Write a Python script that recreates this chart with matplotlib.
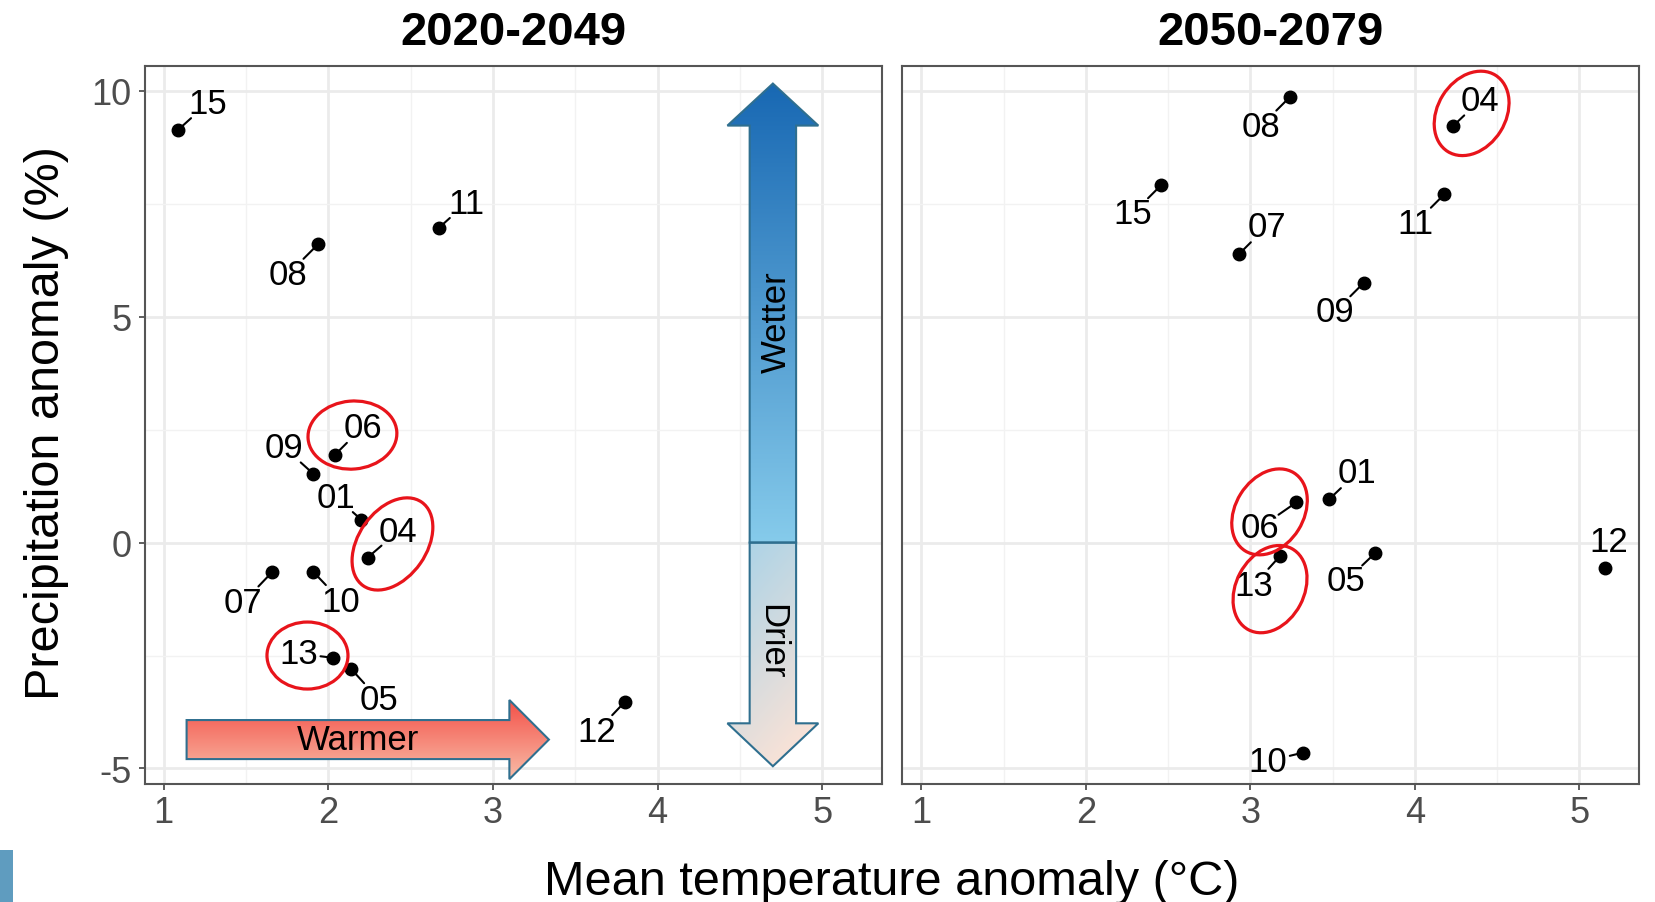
import numpy as np
import matplotlib
matplotlib.use('Agg')
import matplotlib.pyplot as plt
from matplotlib.patches import Polygon, Ellipse, Rectangle
from matplotlib.transforms import ScaledTranslation
from matplotlib.colors import to_rgb
from matplotlib.ticker import MultipleLocator

plt.rcParams['font.family'] = ['Liberation Sans', 'DejaVu Sans']
plt.rcParams['axes.unicode_minus'] = False

# ---------------- data ----------------
models = ['01', '04', '05', '06', '07', '08', '09', '10', '11', '12', '13', '15']

temp_2020 = [2.20, 2.24, 2.14, 2.04, 1.66, 1.94, 1.91, 1.91, 2.67, 3.80, 2.03, 1.09]
prec_2020 = [0.51, -0.33, -2.80, 1.94, -0.65, 6.61, 1.52, -0.65, 6.96, -3.53, -2.55, 9.14]

temp_2050 = [3.48, 4.23, 3.76, 3.28, 2.93, 3.24, 3.69, 3.32, 4.18, 5.16, 3.18, 2.46]
prec_2050 = [0.96, 9.21, -0.23, 0.89, 6.38, 9.86, 5.75, -4.65, 7.71, -0.56, -0.30, 7.92]

periods = ['2020-2049', '2050-2079']
highlighted = ['04', '06', '13']

x_ticks = [1, 2, 3, 4, 5]
y_ticks = [-5, 0, 5, 10]

# ---------------- label placement (offset points) ----------------
offs_2020 = {'01': (-18, 16), '04': (22, 19), '05': (20, -22), '06': (20, 20),
             '07': (-21, -22), '08': (-22, -22), '09': (-21, 19), '10': (20, -21),
             '11': (20, 18), '12': (-20, -21), '13': (-25, 3), '15': (21, 19)}
offs_2050 = {'01': (20, 19), '04': (20, 19), '05': (-21, -20), '06': (-26, -18),
             '07': (20, 20), '08': (-21, -21), '09': (-21, -21), '10': (-25, -6),
             '11': (-21, -21), '12': (2, 19), '13': (-19, -21), '15': (-21, -21)}

# ellipses: (center x, center y) data, width/height inches, angle
ell_2020 = [((2.147, 2.38), 0.89, 0.68, 5), ((2.39, -0.03), 1.02, 0.68, 55),
            ((1.874, -2.50), 0.81, 0.67, 0)]
ell_2050 = [((3.117, 0.68), 0.92, 0.68, 58), ((3.12, -1.03), 0.92, 0.68, 62),
            ((4.346, 9.50), 0.90, 0.68, 58)]

W, H = 1655, 903
fig = plt.figure(figsize=(W / 100, H / 100), dpi=100)

def px_to_fig(x0, y0, x1, y1):
    return [x0 / W, 1 - y1 / H, (x1 - x0) / W, (y1 - y0) / H]

ax1 = fig.add_axes(px_to_fig(144.6, 66.5, 882.4, 785.3))
ax2 = fig.add_axes(px_to_fig(902.5, 66.5, 1639.2, 785.3))

XL = (0.885, 5.365)
YL = (-5.35, 10.56)

def style(ax, left):
    ax.set_xlim(*XL)
    ax.set_ylim(*YL)
    ax.set_xticks(x_ticks)
    ax.set_yticks(y_ticks)
    ax.xaxis.set_minor_locator(MultipleLocator(0.5))
    ax.yaxis.set_minor_locator(MultipleLocator(2.5))
    ax.grid(True, which='major', color='#ebebeb', lw=2.0, zorder=0)
    ax.grid(True, which='minor', color='#f2f2f2', lw=1.0, zorder=0)
    ax.set_axisbelow(True)
    for s in ax.spines.values():
        s.set_color('#555555')
        s.set_linewidth(1.5)
    ax.tick_params(which='major', length=4.5, width=1.1, color='#333333',
                   labelsize=26, labelcolor='#4d4d4d', pad=3)
    ax.tick_params(axis='y', pad=5)
    ax.tick_params(which='minor', length=0)
    if not left:
        ax.tick_params(axis='y', left=False, labelleft=False)

def draw_panel(ax, tx, pr, offs, ells):
    ax.plot(tx, pr, 'o', color='black', ms=9, zorder=3)
    for m, x, y in zip(models, tx, pr):
        ax.annotate(m, xy=(x, y), xytext=offs[m], textcoords='offset points',
                    ha='center', va='center', fontsize=25, color='black', zorder=4,
                    arrowprops=dict(arrowstyle='-', color='black', lw=1.5,
                                    patchA=None, shrinkA=16, shrinkB=0))
    for (cx, cy), w, h, ang in ells:
        e = Ellipse((0, 0), w, h, angle=ang, fill=False, edgecolor='#e8141b', lw=2.3,
                    transform=fig.dpi_scale_trans + ScaledTranslation(cx, cy, ax.transData),
                    zorder=5)
        ax.add_artist(e)

def gradient_poly(ax, verts, img):
    xs = [v[0] for v in verts]
    ys = [v[1] for v in verts]
    poly = Polygon(verts, closed=True, transform=ax.transData, facecolor='none',
                   edgecolor='#2f6f8f', lw=1.5, zorder=2.1)
    im = ax.imshow(img, extent=[min(xs), max(xs), min(ys), max(ys)], origin='lower',
                   aspect='auto', interpolation='bilinear', zorder=2)
    im.set_clip_path(poly)
    ax.add_patch(poly)

def lerp(c0, c1, t):
    c0 = np.array(to_rgb(c0)); c1 = np.array(to_rgb(c1))
    return c0[None, None, :] * (1 - t[..., None]) + c1[None, None, :] * t[..., None]

style(ax1, True)
style(ax2, False)
draw_panel(ax1, temp_2020, prec_2020, offs_2020, ell_2020)
draw_panel(ax2, temp_2050, prec_2050, offs_2050, ell_2050)

# ---- Wetter arrow ----
cx, sw, hw = 4.70, 0.141, 0.276
wet = [(cx - sw, 0.0), (cx - sw, 9.23), (cx - hw, 9.23), (cx, 10.16),
       (cx + hw, 9.23), (cx + sw, 9.23), (cx + sw, 0.0)]
t = np.linspace(0, 1, 200)[:, None] * np.ones((1, 2))
gradient_poly(ax1, wet, lerp('#86cbeb', '#1868b3', t))
ax1.text(4.718, 4.91, 'Wetter', rotation=90, ha='center', va='center', fontsize=25, zorder=4)

# ---- Drier arrow ----
dry = [(cx - sw, 0.0), (cx - sw, -4.0), (cx - hw, -4.0), (cx, -4.95),
       (cx + hw, -4.0), (cx + sw, -4.0), (cx + sw, 0.0)]
gy, gx = np.mgrid[0:1:200j, 0:1:50j]
tt = np.clip(0.75 * (1 - gy) + 0.35 * gx, 0, 1)
gradient_poly(ax1, dry, lerp('#a6d2e8', '#fde3d6', tt))
ax1.text(4.69, -2.17, 'Drier', rotation=-90, ha='center', va='center', fontsize=25, zorder=4)

# ---- Warmer arrow ----
cy, sh, hh = -4.36, 0.432, 0.876
warm = [(1.14, cy - sh), (3.10, cy - sh), (3.10, cy - hh), (3.34, cy),
        (3.10, cy + hh), (3.10, cy + sh), (1.14, cy + sh)]
t2 = np.linspace(0, 1, 200)[:, None] * np.ones((1, 2))
gradient_poly(ax1, warm, lerp('#f8bda8', '#f44f47', t2))
ax1.text(2.18, -4.35, 'Warmer', ha='center', va='center', fontsize=25, zorder=4)

for ax in (ax1, ax2):
    ax.set_xlim(*XL)
    ax.set_ylim(*YL)

# titles
fig.text((144.6 + 882.4) / 2 / W, 1 - 45.4 / H, periods[0], ha='center', va='baseline',
         fontsize=34, fontweight='bold')
fig.text((902.5 + 1639.2) / 2 / W, 1 - 45.4 / H, periods[1], ha='center', va='baseline',
         fontsize=34, fontweight='bold')

fig.text(0.539, 1 - 895 / H, 'Mean temperature anomaly (°C)', ha='center', va='baseline',
         fontsize=35)
fig.text(0.028, 0.532, 'Precipitation anomaly (%)', rotation=90, ha='center', va='center',
         fontsize=35)

fig.patches.append(Rectangle((0, 0), 13 / W, 52 / H, transform=fig.transFigure,
                             facecolor='#5f9cbf', edgecolor='none'))

fig.savefig('out.png', dpi=100)
